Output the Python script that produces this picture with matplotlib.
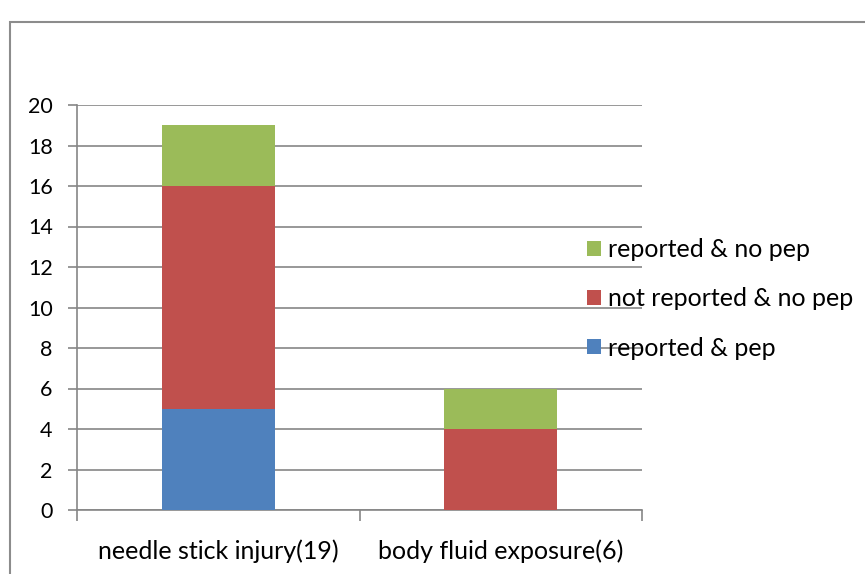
import matplotlib
matplotlib.use("Agg")
import matplotlib.pyplot as plt
from matplotlib.patches import Rectangle
import numpy as np

categories = ["needle stick injury(19)", "body fluid exposure(6)"]
reported_pep = [5, 0]
not_reported_no_pep = [11, 4]
reported_no_pep = [3, 2]
yticks = [0, 2, 4, 6, 8, 10, 12, 14, 16, 18, 20]

W, H = 865, 574
plt.rcParams['font.family'] = ['Lato', 'DejaVu Sans']
fig = plt.figure(figsize=(W / 100, H / 100), dpi=100)

# outer frame (extends past right/bottom edges)
fig.patches.append(Rectangle((10 / W, -0.1), 1.2, 1 - 22 / H + 0.1, transform=fig.transFigure,
                             fill=False, edgecolor="#8c8c8c", linewidth=1.5))

ax = fig.add_axes([77 / W, 1 - 510 / H, (642 - 77) / W, (510 - 105) / H])
x = np.arange(len(categories))
w = 0.4
c_blue, c_red, c_green = "#4f81bd", "#c0504d", "#9bbb59"
b1 = ax.bar(x, reported_pep, w, color=c_blue, label="reported & pep", zorder=3)
b2 = ax.bar(x, not_reported_no_pep, w, bottom=reported_pep, color=c_red,
            label="not reported & no pep", zorder=3)
bottom2 = [a + b for a, b in zip(reported_pep, not_reported_no_pep)]
b3 = ax.bar(x, reported_no_pep, w, bottom=bottom2, color=c_green,
            label="reported & no pep", zorder=3)

ax.set_xlim(-0.5, len(categories) - 0.5)
ax.set_ylim(0, 20)
ax.set_yticks(yticks)
ax.yaxis.grid(True, color="#868686", linewidth=1.2, zorder=0)
ax.set_axisbelow(True)
for s in ["top", "right"]:
    ax.spines[s].set_visible(False)
for s in ["left", "bottom"]:
    ax.spines[s].set_color("#868686")
    ax.spines[s].set_linewidth(1.2)
ax.tick_params(axis="y", length=6.5, color="#868686", width=1.2, labelsize=15.5, pad=11)
ax.set_xticks(x)
ax.set_xticklabels(categories, fontsize=18)
ax.tick_params(axis="x", length=0, pad=21)
# category boundary ticks
ax.set_xticks([-0.5, 0.5, 1.5], minor=True)
ax.tick_params(axis="x", which="minor", length=8, color="#868686", width=1.2)

leg = ax.legend(handles=[b3, b2, b1], loc="upper left",
                bbox_to_anchor=((587 - 77) / (642 - 77), (510 - 238) / (510 - 105)),
                frameon=False, fontsize=18, handlelength=0.55, handleheight=0.55,
                handletextpad=0.3, labelspacing=1.05, borderaxespad=0, borderpad=0)

fig.savefig("out.png", dpi=100)
